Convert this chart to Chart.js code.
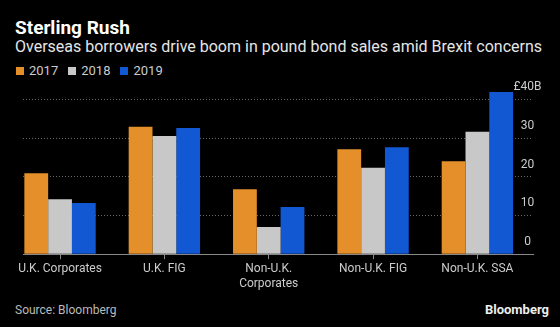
<!DOCTYPE html>
<html>
<head>
<meta charset="utf-8">
<script src="https://cdn.jsdelivr.net/npm/chart.js@4.4.1/dist/chart.umd.min.js"></script>
<style>
  html, body { margin: 0; padding: 0; background: #000; width: 560px; height: 327px; overflow: hidden; font-family: Roboto, "Open Sans", sans-serif; }
  #title { position: absolute; left: 15px; top: 16px; font-size: 19px; font-weight: bold; color: #fff; }
  #subtitle { position: absolute; left: 15px; top: 37px; font-size: 16px; color: #e6e6e6; white-space: nowrap; }
  #legend { position: absolute; left: 16px; top: 63px; font-size: 13px; color: #ccc; display: flex; }
  #legend span { display: flex; align-items: center; margin-right: 10px; }
  #legend i { display: inline-block; width: 8px; height: 8px; margin-right: 5px; }
  #source { position: absolute; left: 15px; top: 303px; font-size: 12px; color: #bbb; }
  #logo { position: absolute; right: 11px; top: 302px; font-size: 13px; font-weight: bold; color: #eee; }
  #wrap { position: absolute; left: 0; top: 72px; width: 560px; height: 226px; }
</style>
</head>
<body>
<div id="title">Sterling Rush</div>
<div id="subtitle">Overseas borrowers drive boom in pound bond sales amid Brexit concerns</div>
<div id="legend"></div>
<div id="wrap"><canvas id="chart"></canvas></div>
<div id="source">Source: Bloomberg</div>
<div id="logo">Bloomberg</div>
<script>
// billions of pounds
const categories = ["U.K. Corporates", "U.K. FIG", ["Non-U.K.", "Corporates"], "Non-U.K. FIG", "Non-U.K. SSA"]
const years = ["2017", "2018", "2019"]
const sales2017 = [20.9, 32.9, 16.8, 27.1, 24.0]
const sales2018 = [14.2, 30.5, 7.0, 22.3, 31.6]
const sales2019 = [13.2, 32.6, 12.2, 27.6, 41.9]
const yTicks = [0, 10, 20, 30, 40]

const colors = ["#e58f2b", "#c8c8c8", "#1158d2"]
const series = [sales2017, sales2018, sales2019]

const legend = document.getElementById("legend")
years.forEach((y, i) => {
  const s = document.createElement("span")
  s.innerHTML = `<i style="background:${colors[i]}"></i>${y}`
  legend.appendChild(s)
})

new Chart(document.getElementById("chart"), {
  type: "bar",
  data: {
    datasets: years.map((y, i) => ({
      label: y,
      data: series[i].map((v, j) => ({ x: j, y: v })),
      backgroundColor: colors[i],
      borderWidth: 0,
      categoryPercentage: 0.684,
      barPercentage: 1
    }))
  },
  options: {
    responsive: true, maintainAspectRatio: false, animation: false,
    layout: { padding: { left: 23, right: 18, top: 4, bottom: 4 } },
    plugins: { legend: { display: false }, tooltip: { enabled: false } },
    scales: {
      x: {
        type: "linear", min: -0.355, max: 4.533, offset: false,
        afterBuildTicks: s => { s.ticks = categories.map((_, i) => ({ value: i })) },
        ticks: { callback: v => categories[v], color: "#ccc", font: { family: "Roboto", size: 12 }, padding: 3, maxRotation: 0, autoSkip: false },
        grid: { offset: false, drawOnChartArea: false, drawTicks: true, tickLength: 5, color: "#888" },
        border: { display: true, color: "#888", width: 1 }
      },
      y: {
        position: "right", min: 0, max: 43,
        afterBuildTicks: s => { s.ticks = yTicks.map(v => ({ value: v })) },
        afterFit: s => { s.width = 9 },
        ticks: { callback: v => v === 40 ? "£40B" : v, color: "#ccc", font: { family: "Roboto", size: 12 }, mirror: true, padding: 8.5, labelOffset: -12, crossAlign: "center" },
        grid: { drawTicks: false, lineWidth: 1, color: c => c.tick && c.tick.value === 0 ? "transparent" : "#666" },
        border: { display: false, dash: [1, 2] }
      }
    }
  }
})
</script>
</body>
</html>
